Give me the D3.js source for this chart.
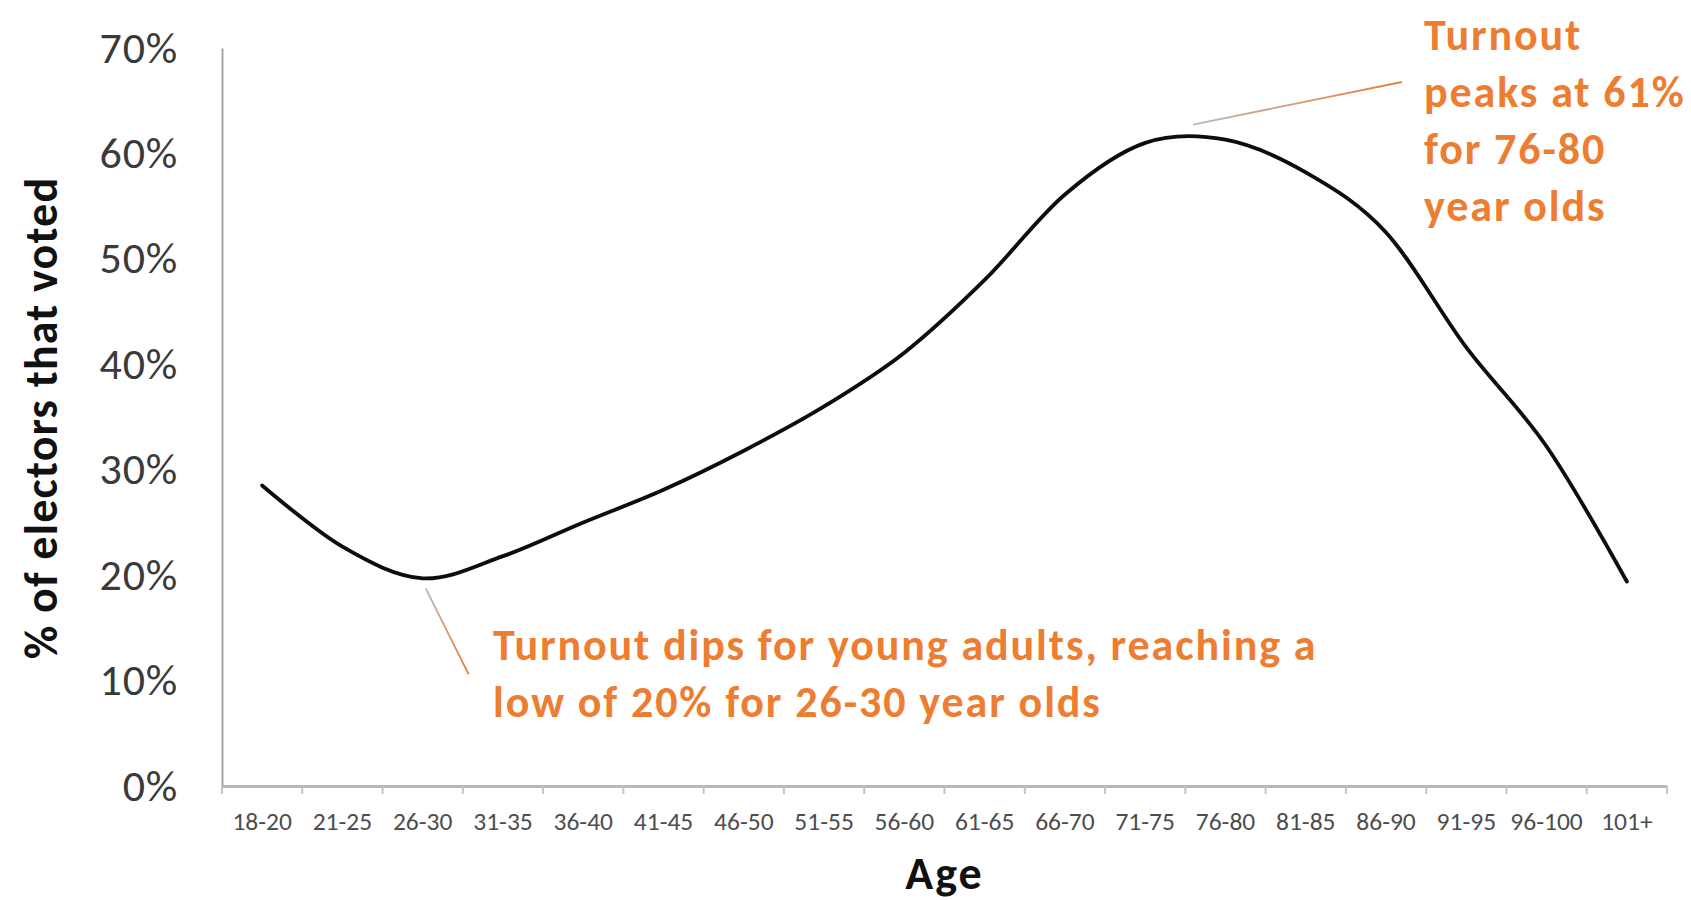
<!DOCTYPE html>
<html>
<head>
<meta charset="utf-8">
<script src="https://cdn.jsdelivr.net/npm/d3@7"></script>
<style>
    body { margin: 0; background: #fff; }
    text { font-family: Carlito, Lato, "Open Sans", sans-serif; }
</style>
</head>
<body>
<script>
// age groups on the x axis
const ageGroups = ['18-20', '21-25', '26-30', '31-35', '36-40', '41-45', '46-50', '51-55', '56-60',
    '61-65', '66-70', '71-75', '76-80', '81-85', '86-90', '91-95', '96-100', '101+'];

// % of electors that voted
const turnout = [28.5, 22.7, 19.7, 21.8, 25.0, 28.1, 31.8, 36.0, 41.1,
    48.0, 56.1, 61.0, 61.3, 58.2, 52.5, 41.6, 32.2, 19.4];

const yTicks = [0, 10, 20, 30, 40, 50, 60, 70];

const dipNote = ['Turnout dips for young adults, reaching a', 'low of 20% for 26-30 year olds'];
const peakNote = ['Turnout', 'peaks at 61%', 'for 76-80', 'year olds'];

const width = 1691;
const height = 900;
const orange = '#ED7D31';

const svg = d3.select('body')
    .append('svg')
    .attr('width', width)
    .attr('height', height)
    .attr("viewBox", [0, 0, width, height]);

const x = d3.scaleBand()
    .domain(ageGroups)
    .range([222, 1667])
    .padding(0);

const y = d3.scaleLinear()
    .domain([0, 70])
    .range([786, 48]);

const cx = d => x(d) + x.bandwidth() / 2;

//y axis
const yAxis = svg.append('g')
    .attr('transform', 'translate(222,0)')
    .call(d3.axisLeft(y).tickValues(yTicks).tickFormat(d => d + '%').tickSize(0).tickPadding(44));

yAxis.select('.domain')
    .attr('stroke', '#a6a6a6')
    .attr('stroke-width', 2);

yAxis.selectAll('text')
    .attr('font-size', 44)
    .attr('letter-spacing', 0.8)
    .attr('fill', '#3a3a3a');

//x axis
const xAxis = svg.append('g')
    .attr('transform', 'translate(0,786)')
    .call(d3.axisBottom(x).tickSize(0).tickPadding(26));

xAxis.select('.domain')
    .attr('stroke', '#b8b8b8')
    .attr('stroke-width', 3);

xAxis.selectAll('text')
    .attr('font-size', 25.5)
    .attr('fill', '#4d4d4d');

// tick marks between the categories
xAxis.selectAll('line.sep')
    .data(ageGroups.map(d => x(d)).concat([x.range()[1]]))
    .enter()
    .append('line')
    .attr('class', 'sep')
    .attr('x1', d => d)
    .attr('x2', d => d)
    .attr('y1', 0)
    .attr('y2', 8)
    .attr('stroke', '#c4c4c4')
    .attr('stroke-width', 2);

//axis titles
svg.append('text')
    .attr('transform', 'translate(57,418) rotate(-90)')
    .attr('text-anchor', 'middle')
    .attr('font-size', 46)
    .attr('letter-spacing', 1.2)
    .attr('font-weight', 'bold')
    .attr('fill', '#111')
    .text('% of electors that voted');

svg.append('text')
    .attr('x', (x.range()[0] + x.range()[1]) / 2)
    .attr('y', 889)
    .attr('text-anchor', 'middle')
    .attr('font-size', 46)
    .attr('letter-spacing', 2)
    .attr('font-weight', 'bold')
    .attr('fill', '#111')
    .text('Age');

//the turnout line, smoothed like excel does
const line = d3.line()
    .x((d, i) => cx(ageGroups[i]))
    .y(d => y(d))
    .curve(d3.curveCardinal.tension(0));

svg.append('path')
    .datum(turnout)
    .attr('d', line)
    .attr('fill', 'none')
    .attr('stroke', '#0d0d0d')
    .attr('stroke-width', 3.8)
    .attr('stroke-linecap', 'round');

// leader lines fade from grey to orange
const defs = svg.append('defs');
function fade(id, x1, y1, x2, y2) {
    const g = defs.append('linearGradient')
        .attr('id', id)
        .attr('gradientUnits', 'userSpaceOnUse')
        .attr('x1', x1).attr('y1', y1)
        .attr('x2', x2).attr('y2', y2);
    g.append('stop').attr('offset', 0).attr('stop-color', '#b9b9b9');
    g.append('stop').attr('offset', 1).attr('stop-color', orange);
}

// dip: from the low point of 26-30 down to the text
const dipX = cx('26-30');
const dipY = y(turnout[2]);
fade('dipFade', dipX, dipY + 10, dipX + 44, dipY + 96);
svg.append('line')
    .attr('x1', dipX + 3)
    .attr('y1', dipY + 10)
    .attr('x2', dipX + 46)
    .attr('y2', dipY + 96)
    .attr('stroke', 'url(#dipFade)')
    .attr('stroke-width', 1.8);

// peak: from just above the top of the curve up to the text
const peakX = cx('71-75') + 48;
const peakY = y(61.6) - 12;
fade('peakFade', peakX, peakY, 1402, 82);
svg.append('line')
    .attr('x1', peakX)
    .attr('y1', peakY)
    .attr('x2', 1402)
    .attr('y2', 82)
    .attr('stroke', 'url(#peakFade)')
    .attr('stroke-width', 1.8);

svg.selectAll('text.dip')
    .data(dipNote)
    .enter()
    .append('text')
    .attr('class', 'dip')
    .attr('x', 493)
    .attr('y', (d, i) => 660 + i * 57)
    .attr('font-size', 44)
    .attr('letter-spacing', 1.9)
    .attr('font-weight', 'bold')
    .attr('fill', orange)
    .text(d => d);

svg.selectAll('text.peak')
    .data(peakNote)
    .enter()
    .append('text')
    .attr('class', 'peak')
    .attr('x', 1424)
    .attr('y', (d, i) => 50 + i * 57)
    .attr('font-size', 44)
    .attr('letter-spacing', 1.9)
    .attr('font-weight', 'bold')
    .attr('fill', orange)
    .text(d => d);
</script>
</body>
</html>
